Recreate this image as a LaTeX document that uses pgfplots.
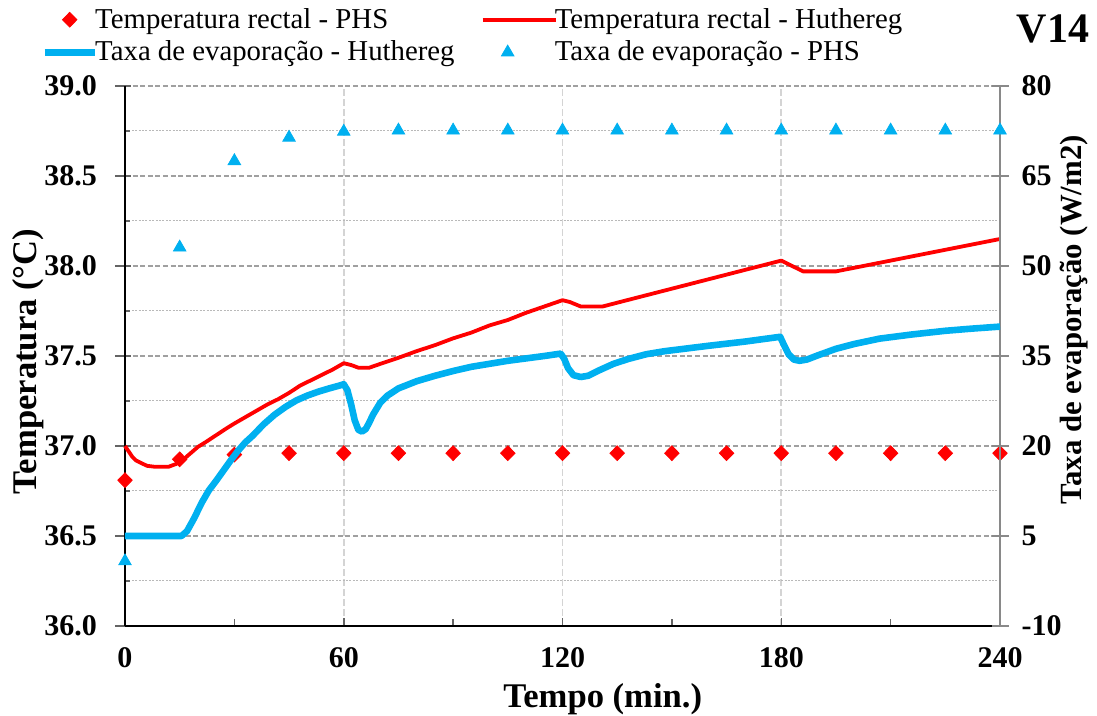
\documentclass[border=0pt]{standalone}
\usepackage{fontspec}
\setmainfont{Liberation Serif}
\usepackage{pgfplots}
\pgfplotsset{compat=1.18}
\definecolor{exred}{RGB}{255,0,0}
\definecolor{exblue}{RGB}{0,176,240}
\definecolor{majgrid}{RGB}{160,160,160}
\definecolor{mingrid}{RGB}{185,185,185}
\definecolor{vgrid}{RGB}{212,212,212}
\definecolor{raxis}{RGB}{137,137,137}
\definecolor{tickgray}{RGB}{100,100,100}
\newcommand{\tickfont}{\bfseries\fontsize{15}{17}\selectfont}
\newcommand{\labfont}{\bfseries\fontsize{17.3}{20}\selectfont}
\pgfplotsset{
  base/.style={scale only axis, width=437.5pt, height=270pt, xmin=0, xmax=240, clip=false,
    ticklabel style={font=\tickfont}, label style={font=\labfont}},
  legmarkA/.style={legend image code/.code={\path (0pt,0pt) (25pt,0pt); \draw[mark repeat=2,mark phase=2,##1] plot coordinates {(0pt,0pt) (12.5pt,0pt) (25pt,0pt)};}},
  legmarkB/.style={legend image code/.code={\path (0pt,0pt) (36.5pt,0pt); \draw[mark repeat=2,mark phase=2,##1] plot coordinates {(0pt,0pt) (12.5pt,0pt) (25pt,0pt)};}},
  leglineA/.style={legend image code/.code={\draw[##1] (0pt,0pt) -- (25pt,0pt);}},
  leglineB/.style={legend image code/.code={\draw[##1] (0pt,0pt) -- (36.5pt,0pt);}},
}
\begin{document}
\begin{tikzpicture}
\path[use as bounding box] (-62.5pt,-45pt) rectangle (486pt,313pt);
% x axis with vertical grid
\begin{axis}[base, ymin=36, ymax=39, axis y line=none, axis x line*=bottom,
  xtick={0,240}, xticklabels={0,240},
  extra x ticks={60,120,180}, extra x tick labels={60,120,180},
  extra x tick style={grid=major, major grid style={vgrid, line width=0.9pt, dash pattern=on 3.5pt off 1.5pt}},
  minor xtick={30,90,150,210},
  tick align=inside, major tick length=4pt, minor tick length=3.3pt,
  x axis line style={black, line width=0.75pt, -},
  tick style={tickgray, line width=0.75pt},
  xticklabel style={yshift=-7pt},
  xlabel={Tempo (min.)},
  xlabel style={at={(axis description cs:0.546,0)}, anchor=base, yshift=-41pt}]
\end{axis}
% left axis: temperature
\begin{axis}[base, ymin=36, ymax=39, axis x line*=bottom, axis y line*=left, xtick=\empty,
  ytick={36,36.5,37,37.5,38,38.5,39}, yticklabels={36.0,36.5,37.0,37.5,38.0,38.5,39.0},
  minor y tick num=1,
  ymajorgrids, yminorgrids,
  major grid style={majgrid, line width=0.6pt, dash pattern=on 2.5pt off 1.3pt},
  minor grid style={mingrid, line width=0.5pt, dash pattern=on 1pt off 0.7pt},
  tick align=center, major tick length=8pt, minor tick length=2.5pt,
  axis line style={black, line width=0.75pt, -},
  tick style={tickgray, line width=0.75pt},
  major y tick style={xshift=-1pt},
  minor y tick style={xshift=1.25pt},
  yticklabel style={xshift=-6.5pt},
  ylabel={Temperatura (°C)},
  ylabel style={at={([xshift=-48.5pt]axis description cs:0,0.49)}, anchor=center}]
\addplot[exred, line width=1.9pt, line join=round] coordinates {
(0,37.00) (1,36.97) (2,36.94) (3,36.92) (4,36.91) (5,36.90) (6,36.89) (8,36.885) (12,36.885)
(14,36.90) (16,36.925) (18,36.96) (20,36.995) (22,37.02) (25,37.06) (28,37.10) (30,37.125)
(33,37.16) (36,37.195) (39,37.23) (42,37.26) (45,37.295) (48,37.335) (51,37.365) (54,37.395)
(57,37.425) (60,37.46) (62,37.45) (64,37.435) (67,37.435) (70,37.456) (75,37.49) (80,37.527)
(85,37.56) (90,37.598) (95,37.63) (100,37.67) (105,37.70) (110,37.74) (115,37.775) (120,37.81)
(122,37.80) (125,37.775) (131,37.775) (135,37.796) (140,37.822) (145,37.848) (150,37.874)
(155,37.90) (160,37.926) (165,37.952) (170,37.978) (175,38.004) (180,38.03) (185,37.98)
(186,37.97) (195,37.97) (200,37.99) (205,38.01) (210,38.03) (215,38.05) (220,38.07)
(225,38.09) (230,38.11) (235,38.13) (240,38.15)};
\addplot[only marks, mark=diamond*, mark size=3.7pt, mark options={xscale=1.3, fill=exred, draw=exred}, color=exred] coordinates {
(0,36.81) (15,36.926) (30,36.952) (45,36.96) (60,36.96) (75,36.96) (90,36.96) (105,36.96)
(120,36.96) (135,36.96) (150,36.96) (165,36.96) (180,36.96) (195,36.96) (210,36.96)
(225,36.96) (240,36.96)};
\end{axis}
% right axis: evaporation
\begin{axis}[base, ymin=-10, ymax=80, axis x line=none, axis y line*=right,
  ytick={-10,5,20,35,50,65,80}, yticklabels={-10,5,20,35,50,65,80},
  tick align=center, major tick length=8.5pt,
  axis line style={raxis, line width=1pt, -},
  tick style={raxis, line width=0.75pt},
  yticklabel style={xshift=3pt},
  ylabel={Taxa de evaporação (W/m2)},
  ylabel style={font=\bfseries\fontsize{15.4}{18}\selectfont, at={([xshift=37pt]axis description cs:1,0.567)}, anchor=center},
  legend columns=2, legend cell align=left,
  legend style={at={(axis description cs:-0.0960,1.147)}, anchor=north west, draw=none, fill=none,
    inner sep=0pt, font=\fontsize{14.4}{16}\selectfont, row sep=3.6pt,
    nodes={inner sep=0.6pt},
    /tikz/every odd column/.append style={column sep=-2pt},
    /tikz/every even column/.append style={column sep=12.5pt}}]
\addlegendimage{only marks, mark=diamond*, mark size=3.7pt, mark options={xscale=1.3, fill=exred, draw=exred}, color=exred, legmarkA}
\addlegendentry{Temperatura rectal - PHS}
\addlegendimage{exred, line width=1.9pt, leglineB}
\addlegendentry{Temperatura rectal - Huthereg}
\addplot[exblue, line width=3.3pt, line join=round, leglineA] coordinates {
(0,5) (15.5,5) (17,5.8) (19,8.0) (21,10.5) (23,12.6) (25,14.2) (27,15.9) (29,17.6) (31,19.2)
(33,20.6) (35,21.7) (38,23.6) (41,25.2) (44,26.5) (47,27.6) (50,28.4) (53,29.05) (56,29.6)
(59,30.1) (60,30.3) (61,29.3) (62,27.0) (63,24.3) (64,22.7) (65,22.4) (66,22.8) (67,23.9)
(68,25.2) (70,27.2) (72,28.4) (75,29.6) (80,30.8) (85,31.7) (90,32.5) (95,33.2) (100,33.7)
(105,34.2) (110,34.6) (115,35.0) (119.5,35.4) (120.5,34.5) (121.5,33.0) (123,31.8) (125,31.5)
(127,31.7) (130,32.6) (134,33.7) (138,34.5) (143,35.3) (148,35.8) (152,36.1) (160,36.7)
(170,37.4) (179.7,38.2) (180.7,36.9) (182,35.3) (183.5,34.4) (185,34.2) (187,34.4) (190,35.1)
(195,36.2) (200,37.0) (207,37.9) (216,38.6) (225,39.2) (232,39.55) (240,39.9)};
\addlegendentry{Taxa de evaporação - Huthereg}
\addplot[only marks, mark=triangle*, mark size=3.6pt, color=exblue, mark options={fill=exblue, draw=exblue}, legmarkB] coordinates {
(0,0.8) (15,53.1) (30,67.5) (45,71.4) (60,72.4) (75,72.6) (90,72.6) (105,72.6) (120,72.6)
(135,72.6) (150,72.6) (165,72.6) (180,72.6) (195,72.6) (210,72.6) (225,72.6) (240,72.6)};
\addlegendentry{Taxa de evaporação - PHS}
\end{axis}
\node[font=\bfseries\fontsize{21}{24}\selectfont, anchor=center] at (464pt,298.5pt) {V14};
\end{tikzpicture}
\end{document}
